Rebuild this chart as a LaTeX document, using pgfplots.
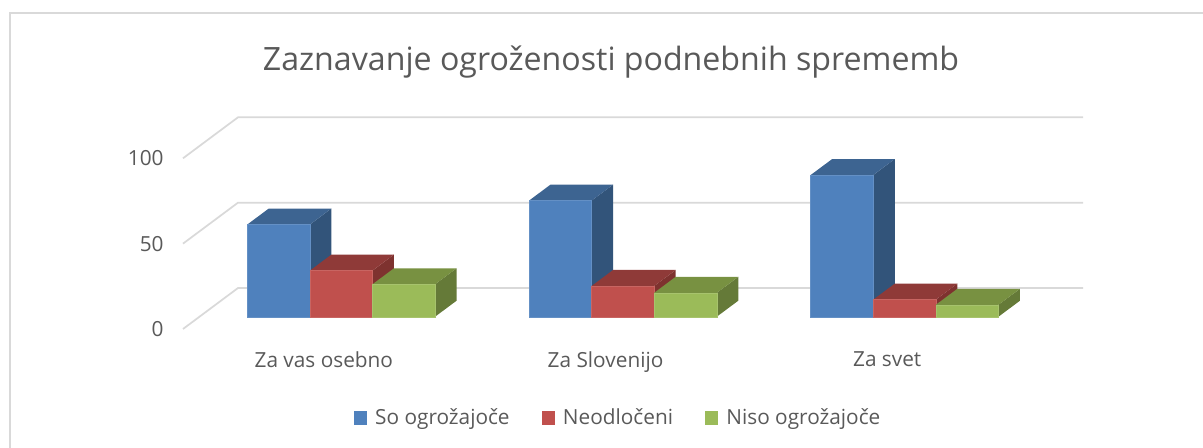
\documentclass[border=0pt]{standalone}
\usepackage{fontspec}
\setmainfont{Open Sans}
\usepackage{pgfplots}
\pgfplotsset{compat=1.18}

\definecolor{txt}{HTML}{595959}
\definecolor{gridc}{HTML}{D9D9D9}
\definecolor{bluef}{HTML}{4F81BD}
\definecolor{bluet}{HTML}{3D6491}
\definecolor{blues}{HTML}{32547A}
\definecolor{redf}{HTML}{C0504D}
\definecolor{redt}{HTML}{8F3A38}
\definecolor{reds}{HTML}{7E322F}
\definecolor{greenf}{HTML}{9BBB59}
\definecolor{greent}{HTML}{789141}
\definecolor{greens}{HTML}{657A38}

% depth of the fake 3D: bars sit 7.2 units up the floor, boxes are 0.0763 / 9.37 deep
\newcommand{\threedbar}[3]{% x of left edge, value, colour prefix
  \pgfmathsetmacro{\xa}{#1}
  \pgfmathsetmacro{\xb}{#1+0.2222}
  \pgfmathsetmacro{\xc}{#1+0.2222+0.0763}
  \pgfmathsetmacro{\xd}{#1+0.0763}
  \pgfmathsetmacro{\ya}{7.2}
  \pgfmathsetmacro{\yb}{7.2+#2}
  \pgfmathsetmacro{\yc}{7.2+#2+9.37}
  \pgfmathsetmacro{\ye}{7.2+9.37}
  \addplot[forget plot,fill=#3s,draw=none] coordinates {(\xb,\ya) (\xc,\ye) (\xc,\yc) (\xb,\yb)} -- cycle;
  \addplot[forget plot,fill=#3t,draw=none] coordinates {(\xa,\yb) (\xd,\yc) (\xc,\yc) (\xb,\yb)} -- cycle;
  \addplot[forget plot,fill=#3f,draw=#3f!88!white,line width=0.3pt] coordinates {(\xa,\ya) (\xb,\ya) (\xb,\yb) (\xa,\yb)} -- cycle;
}

\begin{document}
\begin{tikzpicture}
\useasboundingbox (0pt,0pt) rectangle (902.25pt,336pt);
\draw[gridc,line width=1.5pt] (7.5pt,0pt) -- (7.5pt,326.25pt) -- (902.25pt,326.25pt);
\begin{axis}[
    at={(137.25pt,89.25pt)},
    anchor=south west,
    scale only axis,
    width=675pt,
    height=158.75pt,
    clip=false,
    xmin=-0.5,xmax=2.695,
    ymin=0,ymax=124,
    xtick={0,1,2},
    xticklabels={Za vas osebno,Za Slovenijo,Za svet},
    ytick={0,50,100},
    axis line style={draw=none},
    major tick length=0pt,
    tick label style={font=\fontsize{15.6}{18}\selectfont,text=txt},
    xticklabel style={yshift=-13.5pt},
    yticklabel style={xshift=-11pt},
    /pgf/number format/assume math mode=true,
    title={Zaznavanje ogroženosti podnebnih sprememb},
    title style={at={(rel axis cs:0.4756,1.224)},anchor=center,font=\fontsize{24.1}{28}\selectfont,text=txt},
    legend columns=3,
    legend style={draw=none,fill=none,at={(rel axis cs:0.4838,-0.42)},anchor=center,
      font=\fontsize{15.6}{18}\selectfont,text=txt,
      /tikz/every odd column/.append style={column sep=4pt},
      /tikz/every even column/.append style={column sep=22pt}},
    legend image code/.code={\fill[draw=none,#1] (0pt,-5pt) rectangle (10pt,5pt);},
]
% walls: gridlines run up the left side and along the back
\addplot[forget plot,gridc,line width=1.3pt] coordinates {(-0.5,0) (-0.3048,24) (2.695,24)};
\addplot[forget plot,gridc,line width=1.3pt] coordinates {(-0.5,50) (-0.3048,74) (2.695,74)};
\addplot[forget plot,gridc,line width=1.3pt] coordinates {(-0.5,100) (-0.3048,124) (2.695,124)};

\threedbar{-0.2717}{54}{blue}
\threedbar{-0.0495}{27}{red}
\threedbar{0.1727}{19}{green}
\threedbar{0.7283}{68}{blue}
\threedbar{0.9505}{18}{red}
\threedbar{1.1727}{14}{green}
\threedbar{1.7283}{83}{blue}
\threedbar{1.9505}{10}{red}
\threedbar{2.1727}{7}{green}

\addlegendimage{fill=bluef,draw=none}
\addlegendentry{So ogrožajoče}
\addlegendimage{fill=redf,draw=none}
\addlegendentry{Neodločeni}
\addlegendimage{fill=greenf,draw=none}
\addlegendentry{Niso ogrožajoče}
\end{axis}
\end{tikzpicture}
\end{document}
